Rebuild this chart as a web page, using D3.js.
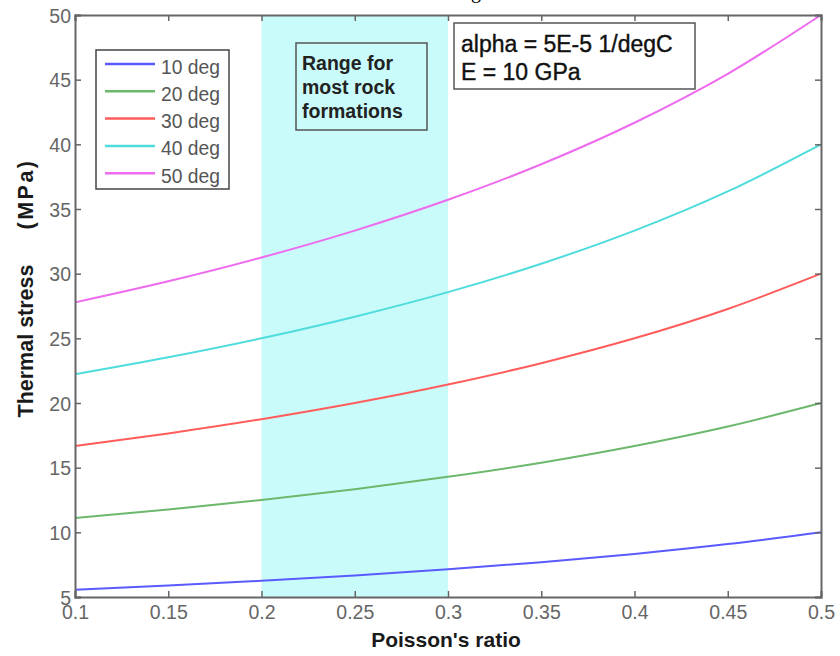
<!DOCTYPE html>
<html>
<head>
<meta charset="utf-8">
<script src="https://cdn.jsdelivr.net/npm/d3@7"></script>
<style>
  html, body { margin: 0; padding: 0; background: #fff; }
  svg { display: block; }
  text { font-family: Arial, "Liberation Sans", sans-serif; }
</style>
</head>
<body>
<svg id="chart" width="840" height="656"></svg>
<script>
// Poisson's ratio samples along the x axis
const poisson = [0.1, 0.15, 0.2, 0.25, 0.3, 0.35, 0.4, 0.45, 0.5];

// Thermal stress (MPa) for each temperature change
const stress10 = [5.56, 5.88, 6.25, 6.67, 7.14, 7.69, 8.33, 9.09, 10.0];
const stress20 = [11.11, 11.76, 12.5, 13.33, 14.29, 15.38, 16.67, 18.18, 20.0];
const stress30 = [16.67, 17.65, 18.75, 20.0, 21.43, 23.08, 25.0, 27.27, 30.0];
const stress40 = [22.22, 23.53, 25.0, 26.67, 28.57, 30.77, 33.33, 36.36, 40.0];
const stress50 = [27.78, 29.41, 31.25, 33.33, 35.71, 38.46, 41.67, 45.45, 50.0];

const seriesNames = ["10 deg", "20 deg", "30 deg", "40 deg", "50 deg"];
const seriesValues = [stress10, stress20, stress30, stress40, stress50];
const seriesColors = ["#5a5aff", "#6cb86c", "#ff5c5c", "#4fdcdc", "#ee6aee"];

// Typical rock formation range of Poisson's ratio
const rockRange = [0.2, 0.3];

const xTicks = [0.1, 0.15, 0.2, 0.25, 0.3, 0.35, 0.4, 0.45, 0.5];
const yTicks = [5, 10, 15, 20, 25, 30, 35, 40, 45, 50];

const svg = d3.select("#chart");
const plotLeft = 75, plotRight = 821, plotTop = 15, plotBottom = 597;

const x = d3.scaleLinear().domain([0.1, 0.5]).range([plotLeft, plotRight]);
const y = d3.scaleLinear().domain([5, 50]).range([plotBottom, plotTop]);

// shaded band
svg.append("rect")
  .attr("x", x(rockRange[0]))
  .attr("y", plotTop)
  .attr("width", x(rockRange[1]) - x(rockRange[0]))
  .attr("height", plotBottom - plotTop)
  .attr("fill", "#c9fbfb");

// curves
const line = d3.line()
  .x((d, i) => x(poisson[i]))
  .y(d => y(d))
  .curve(d3.curveMonotoneX);

seriesValues.forEach((vals, k) => {
  svg.append("path")
    .datum(vals)
    .attr("d", line)
    .attr("fill", "none")
    .attr("stroke", seriesColors[k])
    .attr("stroke-width", 2);
});

// axes with inward ticks on all four sides
const axisColor = "#666";
const fmtX = d => d3.format("")(d);
const gx = svg.append("g").attr("transform", `translate(0,${plotBottom})`)
  .call(d3.axisBottom(x).tickValues(xTicks).tickSize(-6).tickPadding(8).tickFormat(fmtX));
const gxTop = svg.append("g").attr("transform", `translate(0,${plotTop})`)
  .call(d3.axisTop(x).tickValues(xTicks).tickSize(-6).tickFormat(""));
const gy = svg.append("g").attr("transform", `translate(${plotLeft},0)`)
  .call(d3.axisLeft(y).tickValues(yTicks).tickSize(-6).tickPadding(4));
const gyRight = svg.append("g").attr("transform", `translate(${plotRight},0)`)
  .call(d3.axisRight(y).tickValues(yTicks).tickSize(-6).tickFormat(""));

[gx, gxTop, gy, gyRight].forEach(g => {
  g.select(".domain").attr("stroke", axisColor).attr("stroke-width", 2);
  g.selectAll(".tick line").attr("stroke", axisColor).attr("stroke-width", 1.5);
  g.selectAll(".tick text")
    .attr("fill", "#666")
    .style("font-size", "19.5px")
    .style("font-family", "Arial, 'Liberation Sans', sans-serif");
});
gx.selectAll(".tick text").attr("dy", "0.72em");
gy.selectAll(".tick text").attr("dy", "0.36em");

// axis titles
svg.append("text")
  .attr("x", 446).attr("y", 647)
  .attr("text-anchor", "middle")
  .style("font-size", "21px").style("font-weight", "bold")
  .attr("fill", "#1a1a1a")
  .text("Poisson's ratio");

svg.append("text")
  .attr("transform", "translate(33,341) rotate(-90)")
  .attr("text-anchor", "middle")
  .style("font-size", "21.5px").style("font-weight", "bold")
  .attr("fill", "#1a1a1a")
  .text("Thermal stress");

svg.append("text")
  .attr("transform", "translate(33,194) rotate(-90)")
  .attr("text-anchor", "middle")
  .style("font-size", "21.5px").style("font-weight", "bold")
  .style("letter-spacing", "2.5px")
  .attr("fill", "#1a1a1a")
  .text("(MPa)");

// legend
const legend = svg.append("g");
legend.append("rect")
  .attr("x", 96).attr("y", 50).attr("width", 133).attr("height", 139)
  .attr("fill", "#fff").attr("stroke", "#444").attr("stroke-width", 1.5);
seriesNames.forEach((name, k) => {
  const ly = 64 + k * 27.3;
  legend.append("line")
    .attr("x1", 105).attr("x2", 155).attr("y1", ly).attr("y2", ly)
    .attr("stroke", seriesColors[k]).attr("stroke-width", 2.5);
  legend.append("text")
    .attr("x", 161).attr("y", ly + 9.5)
    .style("font-size", "19.3px").attr("fill", "#555")
    .text(name);
});

// annotation: rock range
svg.append("rect")
  .attr("x", 296).attr("y", 43).attr("width", 131).attr("height", 87)
  .attr("fill", "none").attr("stroke", "#555").attr("stroke-width", 1.5);
["Range for", "most rock", "formations"].forEach((t, i) => {
  svg.append("text")
    .attr("x", 302).attr("y", 70 + i * 24)
    .style("font-size", "19.5px").style("font-weight", "bold")
    .attr("fill", "#222")
    .text(t);
});

// annotation: material constants
svg.append("rect")
  .attr("x", 454).attr("y", 23).attr("width", 241).attr("height", 66)
  .attr("fill", "#fff").attr("stroke", "#555").attr("stroke-width", 1.5);
["alpha = 5E-5 1/degC", "E = 10 GPa"].forEach((t, i) => {
  svg.append("text")
    .attr("x", 461).attr("y", 52 + i * 28)
    .style("font-size", "23px")
    .attr("fill", "#111")
    .attr("stroke", "#111").attr("stroke-width", 0.4)
    .text(t);
});

// clipped caption glyph above the frame
svg.append("text")
  .attr("x", 471).attr("y", -2)
  .style("font-family", "'Liberation Serif', 'DejaVu Serif', serif")
  .style("font-size", "20px")
  .attr("fill", "#000")
  .text("g");
</script>
</body>
</html>
